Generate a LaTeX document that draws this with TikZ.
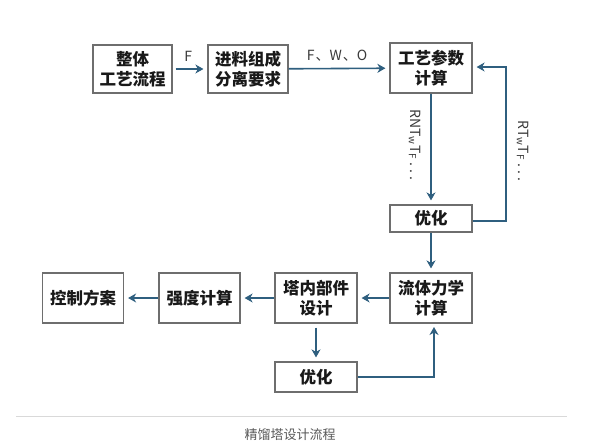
\documentclass[tikz,border=0pt]{standalone}
\usepackage{fontspec}
\setmainfont{Noto Sans CJK SC}
\usetikzlibrary{arrows.meta}
\definecolor{arrowc}{HTML}{2F5F7F}
\definecolor{boxc}{HTML}{6E6E6E}
\definecolor{labc}{HTML}{3A3A3A}
\tikzset{
  box/.style={draw=boxc, line width=1.2pt, fill=white, inner sep=0pt, align=center,
    font=\fontsize{16.5}{20}\selectfont\bfseries, text=black!90},
  conn/.style={draw=arrowc, line width=1.6pt, -{Stealth[length=8pt,width=9pt,inset=2.5pt]},
    shorten >=4pt},
  lab/.style={font=\fontsize{14}{16}\selectfont, text=labc},
}
\begin{document}
\begin{tikzpicture}[x=1pt,y=-1pt]
\useasboundingbox[fill=white] (0,0) rectangle (591,442);
% nodes
\node[box, minimum width=79pt, minimum height=48pt] (whole) at (132.5,69) {整体\\工艺流程};
\node[box, minimum width=80pt, minimum height=48pt] (feed) at (248,69) {进料组成\\分离要求};
\node[box, minimum width=82pt, minimum height=50pt] (proc) at (431,68) {工艺参数\\计算};
\node[box, minimum width=82pt, minimum height=27pt] (opt1) at (431,218.5) {优化};
\node[box, minimum width=82pt, minimum height=50pt] (flow) at (431,298) {流体力学\\计算};
\node[box, minimum width=82pt, minimum height=50pt] (inner) at (316,298) {塔内部件\\设计};
\node[box, minimum width=81pt, minimum height=50pt] (strength) at (199.5,298) {强度计算};
\node[box, minimum width=81pt, minimum height=50pt] (control) at (83,298) {控制方案};
\node[box, minimum width=82pt, minimum height=30pt] (opt2) at (316,377) {优化};
% helper coordinates
\coordinate (loopA) at (506,221);
\coordinate (loopB) at (506,67);
\coordinate (upX) at (434,377);
\coordinate (upEnd) at (434,323);
% connectors
\draw[conn, shorten <=3pt] (whole) -- node[lab, above=3pt, pos=0.45] {F} (feed);
\draw[conn] (feed) -- node[lab, above=3pt, pos=0.48] {F\hspace{1pt}、W\hspace{1pt}、O} (proc);
\draw[conn] (proc) -- (opt1);
\draw[conn] (opt1.east |- loopA) -- (loopA) -- (loopB) -- (loopB -| proc.east);
\draw[conn] (opt1) -- (flow);
\draw[conn] (flow) -- (inner);
\draw[conn] (inner) -- (strength);
\draw[conn] (strength) -- (control);
\draw[conn, shorten <=4pt] (inner) -- (opt2);
\draw[conn] (opt2.east |- upX) -- (upX) -- (upEnd);
% rotated labels
\node[lab, rotate=-90, anchor=west] (l1) at (415,106) {RNT$_{\mathrm{w}}$T$_{\mathrm{F}}$\ .\ .\ .};
\node[lab, rotate=-90, anchor=west] (l2) at (523,117) {RT$_{\mathrm{w}}$T$_{\mathrm{F}}$\ .\ .\ .};
% caption
\draw[draw=black!15, line width=0.8pt] (16,416) -- (567,416);
\node[font=\fontsize{13}{15}\selectfont, text=black!65] (cap) at (290,435) {精馏塔设计流程};
\end{tikzpicture}
\end{document}
